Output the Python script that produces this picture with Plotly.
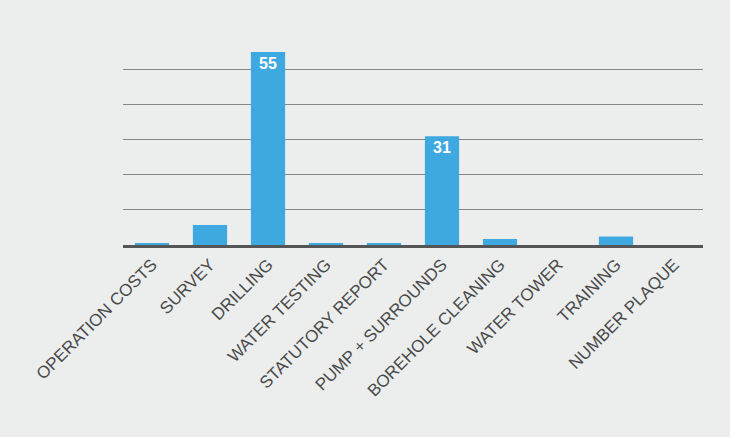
import plotly.graph_objects as go

categories = ["OPERATION COSTS", "SURVEY", "DRILLING", "WATER TESTING", "STATUTORY REPORT",
              "PUMP + SURROUNDS", "BOREHOLE CLEANING", "WATER TOWER", "TRAINING", "NUMBER PLAQUE"]
values = [0.5, 5.7, 55, 0.4, 0.4, 31, 1.7, 0, 2.4, 0]
grid_vals = [10, 20, 30, 40, 50]

labels = ["<b>%d</b>" % v if v >= 20 else "" for v in values]
font_fam = "Liberation Sans Narrow, Arial Narrow, sans-serif"

fig = go.Figure()
fig.add_trace(go.Bar(
    x=categories, y=values,
    marker=dict(color="#3EA8E0", line=dict(width=0)),
    text=labels, textposition="inside", insidetextanchor="end",
    textfont=dict(color="white", size=16, family=font_fam),
    cliponaxis=False, hoverinfo="skip",
))

fig.update_layout(
    width=730, height=437,
    margin=dict(l=123, r=27, t=45, b=192),
    paper_bgcolor="#ECEEEE", plot_bgcolor="#ECEEEE",
    bargap=0.41, showlegend=False,
    xaxis=dict(tickangle=-45, showline=True, linecolor="#555555", linewidth=3,
               tickfont=dict(size=17, color="#4A4A4A", family=font_fam),
               ticks="", showgrid=False),
    yaxis=dict(range=[0, 57], tickvals=grid_vals, showticklabels=False, showgrid=True,
               gridcolor="#858585", gridwidth=1, zeroline=False, showline=False),
)

fig.write_html("out.html", config={"displayModeBar": False},
               post_script="document.body.style.margin='0';document.body.style.overflow='hidden';")
